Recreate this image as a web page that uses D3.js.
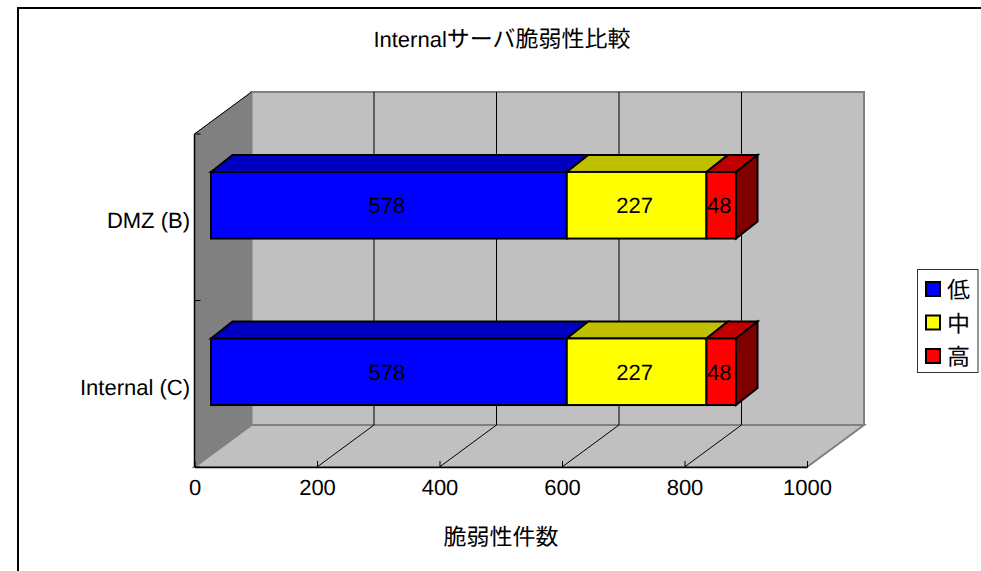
<!DOCTYPE html>
<html>
<head>
<meta charset="utf-8">
<script src="https://cdn.jsdelivr.net/npm/d3@7/dist/d3.min.js"></script>
<style>
  html, body { margin: 0; padding: 0; background: #fff; }
  svg { display: block; }
  text { font-family: "Liberation Sans", "Noto Sans CJK JP", sans-serif; fill: #000; text-rendering: geometricPrecision; }
</style>
</head>
<body>
<script>
// Vulnerability counts per server zone
const categories = ["DMZ (B)", "Internal (C)"];
const lowCounts = [578, 578];
const midCounts = [227, 227];
const highCounts = [48, 48];
const seriesKeys = ["低", "中", "高"];
const tickValues = [0, 200, 400, 600, 800, 1000];
const titleLatin = "Internal";
const titleKana = "サーバ脆弱性比較";
const axisTitle = "脆弱性件数";

const frontColors = { "低": "#0000ff", "中": "#ffff00", "高": "#ff0000" };
const topColors = { "低": "#0000c0", "中": "#c0c000", "高": "#c00000" };
const sideColors = { "低": "#000080", "中": "#808000", "高": "#800000" };

const width = 981, height = 571, fontSize = 22, cjkSize = 23;

const rows = categories.map((c, i) => ({ category: c, "低": lowCounts[i], "中": midCounts[i], "高": highCounts[i] }));
const stacked = d3.stack().keys(seriesKeys)(rows);

const svg = d3.select("body").append("svg").attr("width", width).attr("height", height);

// Chart frame runs off the right and bottom of the page
svg.append("rect").attr("x", 18).attr("y", 8).attr("width", 1000).attr("height", 600)
  .attr("fill", "#fff").attr("stroke", "#000").attr("stroke-width", 2);

// Scales: the value axis on the front floor edge, the bars on a plane set further back
const x = d3.scaleLinear().domain([0, 1000]).range([194.5, 807]);
const barX = d3.scaleLinear().domain([0, 1000]).range([211, 826.5]);
const y = d3.scaleBand().domain(categories).range([134, 467]).paddingInner(0.6).paddingOuter(0.3);
const step = y.step();

const depth = { dx: 57, dy: 42 };         // wall depth
const barShift = { dx: 0, dy: -12 };      // bar front face relative to its band
const barDepth = { dx: 21.5, dy: 17 };    // bar thickness

const [x0, x1] = x.range();
const yTop = 134, yBase = 467;
const poly = pts => pts.map(p => p.join(",")).join(" ");

// Back wall, side wall and floor
svg.append("polygon")
  .attr("points", poly([[x0 + depth.dx, yTop - depth.dy], [x1 + depth.dx, yTop - depth.dy], [x1 + depth.dx, yBase - depth.dy], [x0 + depth.dx, yBase - depth.dy]]))
  .attr("fill", "#c0c0c0").attr("stroke", "#808080").attr("stroke-width", 2);
svg.append("polygon")
  .attr("points", poly([[x0, yBase], [x1, yBase], [x1 + depth.dx, yBase - depth.dy], [x0 + depth.dx, yBase - depth.dy]]))
  .attr("fill", "#c0c0c0").attr("stroke", "#808080").attr("stroke-width", 2);
svg.append("polygon")
  .attr("points", poly([[x0, yTop], [x0 + depth.dx, yTop - depth.dy], [x0 + depth.dx, yBase - depth.dy], [x0, yBase]]))
  .attr("fill", "#808080").attr("stroke", "#808080").attr("stroke-width", 1);
svg.append("line")
  .attr("x1", x0).attr("y1", yTop).attr("x2", x0 + depth.dx).attr("y2", yTop - depth.dy)
  .attr("stroke", "#000").attr("stroke-width", 1);

// Gridlines along the floor and up the back wall
const grid = svg.append("g").attr("stroke", "#000").attr("stroke-width", 1).attr("fill", "none");
tickValues.filter(v => v > 0 && v < 1000).forEach(v => {
  const px = x(v);
  grid.append("path").attr("d", d3.line()([
    [px, yBase],
    [px + depth.dx, yBase - depth.dy],
    [px + depth.dx, yTop - depth.dy]
  ]));
});

// Stacked 3D bars
const bars = svg.append("g").attr("stroke", "#000").attr("stroke-width", 2).attr("stroke-linejoin", "miter");
categories.forEach((c, ci) => {
  const top = y(c) + barShift.dy;
  const bottom = top + y.bandwidth();
  stacked.forEach((layer, li) => {
    const key = layer.key;
    const a = barX(layer[ci][0]), b = barX(layer[ci][1]);
    bars.append("polygon")
      .attr("points", poly([[a, top], [a + barDepth.dx, top - barDepth.dy], [b + barDepth.dx, top - barDepth.dy], [b, top]]))
      .attr("fill", topColors[key]);
    if (li === stacked.length - 1) {
      bars.append("polygon")
        .attr("points", poly([[b, top], [b + barDepth.dx, top - barDepth.dy], [b + barDepth.dx, bottom - barDepth.dy], [b, bottom]]))
        .attr("fill", sideColors[key]);
    }
    bars.append("rect")
      .attr("x", a).attr("y", top).attr("width", b - a).attr("height", bottom - top)
      .attr("fill", frontColors[key]);
  });
  stacked.forEach(layer => {
    const v = layer[ci][1] - layer[ci][0];
    svg.append("text")
      .attr("x", (barX(layer[ci][0]) + barX(layer[ci][1])) / 2 - 2)
      .attr("y", top + y.bandwidth() / 2 + 8)
      .attr("text-anchor", "middle").attr("font-size", fontSize)
      .text(v);
  });
});

// Value axis
const xAxis = d3.axisBottom(x).tickValues(tickValues).tickFormat(d3.format("d"))
  .tickSizeInner(-6).tickSizeOuter(0).tickPadding(12);
const gx = svg.append("g").attr("transform", `translate(0,${yBase})`).call(xAxis);
gx.selectAll("text").attr("font-size", fontSize).attr("font-family", null);
gx.selectAll("path,line").attr("stroke", "#000");
gx.select("path").attr("stroke-width", 1.5);

// Category axis: ticks sit on band boundaries, labels on band centres
const gy = svg.append("g");
gy.append("line").attr("x1", x0).attr("x2", x0).attr("y1", yTop).attr("y2", yBase).attr("stroke", "#000").attr("stroke-width", 1.5);
d3.range(categories.length + 1).forEach(i => {
  const ty = yTop + i * step;
  gy.append("line").attr("x1", x0).attr("x2", x0 + 6).attr("y1", ty).attr("y2", ty).attr("stroke", "#000");
});
categories.forEach(c => {
  gy.append("text").attr("x", 190).attr("y", y(c) + y.bandwidth() / 2 + 11)
    .attr("text-anchor", "end").attr("font-size", fontSize).text(c);
});

// Titles
const title = svg.append("text").attr("x", 502).attr("y", 47).attr("text-anchor", "middle").attr("font-size", cjkSize);
title.append("tspan").attr("font-size", fontSize).text(titleLatin);
title.append("tspan").text(titleKana);
svg.append("text").attr("x", 501).attr("y", 545).attr("text-anchor", "middle").attr("font-size", cjkSize).text(axisTitle);

// Legend
const legend = svg.append("g");
legend.append("rect").attr("x", 917.5).attr("y", 269.5).attr("width", 60.5).attr("height", 103)
  .attr("fill", "#fff").attr("stroke", "#333").attr("stroke-width", 1);
seriesKeys.forEach((k, i) => {
  const ly = 282 + i * 33.5;
  legend.append("rect").attr("x", 926).attr("y", ly).attr("width", 14).attr("height", 14)
    .attr("fill", frontColors[k]).attr("stroke", "#000").attr("stroke-width", 2);
  legend.append("text").attr("x", 947).attr("y", ly + 16).attr("font-size", cjkSize).text(k);
});
</script>
</body>
</html>
